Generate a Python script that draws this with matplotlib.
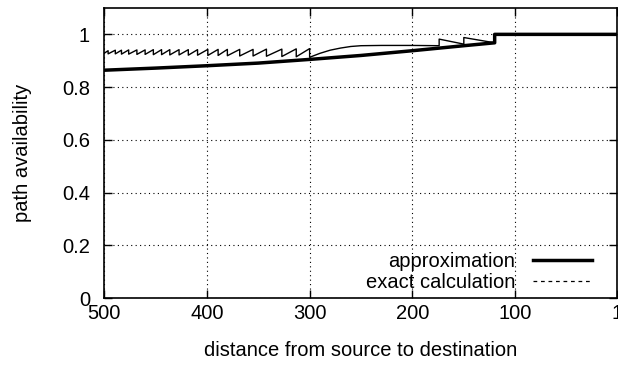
import matplotlib
matplotlib.use('Agg')
import matplotlib.pyplot as plt
from matplotlib.lines import Line2D

plt.rcParams['font.family'] = ['Liberation Sans', 'DejaVu Sans']

# approximation (thick line)
approx_x = [500, 450, 400, 350, 300, 250, 200, 150, 120, 120, 1]
approx_y = [0.864, 0.872, 0.881, 0.891, 0.905, 0.920, 0.938, 0.957, 0.968, 1.0, 1.0]

# exact calculation: sawtooth part (tooth edges, low/high per tooth)
tooth_edges = [500, 496, 489, 483, 476, 468, 460, 452, 444, 436, 427, 418,
               409, 399, 389, 380, 368, 355, 342, 327, 313, 300]
tooth_low = [0.928, 0.926, 0.926, 0.925, 0.925, 0.924, 0.924, 0.923, 0.923,
             0.922, 0.922, 0.921, 0.921, 0.920, 0.920, 0.919, 0.918, 0.918,
             0.917, 0.916, 0.915]
tooth_high = [0.938, 0.940, 0.940, 0.941, 0.941, 0.941, 0.942, 0.942, 0.942,
              0.942, 0.942, 0.942, 0.943, 0.943, 0.943, 0.943, 0.943, 0.944,
              0.944, 0.945, 0.946]
# exact calculation: smooth part and the tail
curve_x = [300, 290, 280, 270, 260, 250, 230, 200, 174]
curve_y = [0.913, 0.928, 0.940, 0.948, 0.954, 0.957, 0.958, 0.958, 0.957]
tail_x = [174, 150, 150, 120, 120, 1]
tail_y = [0.982, 0.963, 0.988, 0.968, 1.0, 1.0]

exact_x, exact_y = [], []
for i in range(len(tooth_low)):
    exact_x += [tooth_edges[i], tooth_edges[i + 1]]
    exact_y += [tooth_low[i], tooth_high[i]]
exact_x += curve_x + tail_x
exact_y += curve_y + tail_y

fig = plt.figure(figsize=(6.18, 3.65), dpi=100)
ax = fig.add_axes([104 / 618, 1 - 298 / 365, 513 / 618, 290 / 365])

ax.plot(exact_x, exact_y, color='black', lw=1.0, zorder=3)
ax.plot(approx_x, approx_y, color='black', lw=2.5, zorder=4)

ax.set_xlim(500, 1)
ax.set_ylim(0, 1.1)
ax.set_xticks([500, 400, 300, 200, 100, 1])
ax.set_xticklabels(['500', '400', '300', '200', '100', '1'])
ax.set_yticks([0, 0.2, 0.4, 0.6, 0.8, 1.0])
ax.set_yticklabels(['0', '0.2', '0.4', '0.6', '0.8', '1'])
ax.tick_params(direction='in', length=6, width=1, top=True, right=True,
               labelsize=14.5)
ax.tick_params(axis='x', pad=4)
ax.tick_params(axis='y', pad=10)
ax.grid(True, color='black', lw=0.8, linestyle=(0, (1, 3)))
for s in ax.spines.values():
    s.set_linewidth(1.2)

ax.set_xlabel('distance from source to destination', fontsize=14.5, labelpad=13)
ax.set_ylabel('path availability', fontsize=14.5, labelpad=22)

handles = [Line2D([], [], color='black', lw=2.5),
           Line2D([], [], color='black', lw=0.9, linestyle=(0, (3, 3)))]
ax.legend(handles, ['approximation', 'exact calculation'], loc='lower right',
          bbox_to_anchor=(0.951, 0.02), markerfirst=False, frameon=False,
          fontsize=14.5, handlelength=2.9, handletextpad=0.9,
          labelspacing=0.1, borderpad=0, borderaxespad=0)

fig.savefig('out.png', dpi=100)
